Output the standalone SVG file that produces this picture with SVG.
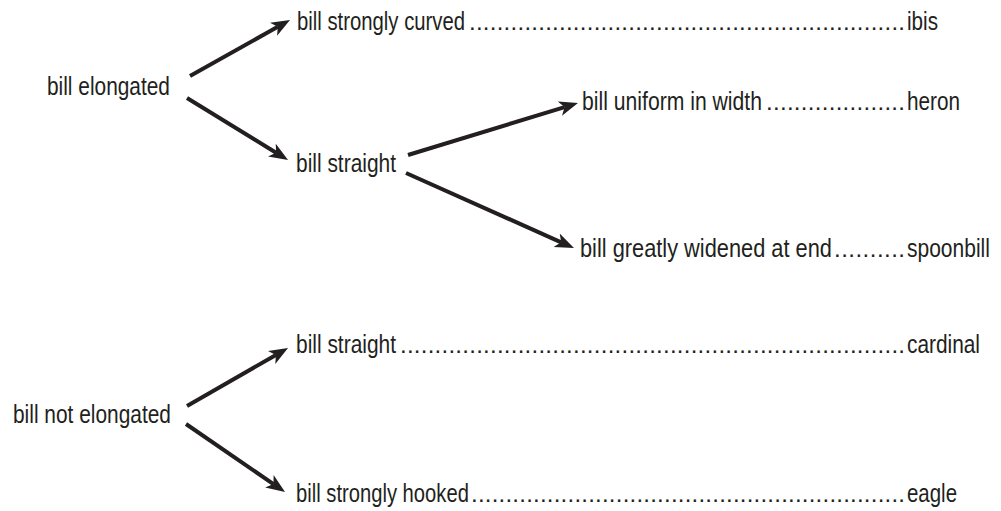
<svg xmlns="http://www.w3.org/2000/svg" width="1001" height="511" viewBox="0 0 1001 511">
<style>
text{font-family:"Liberation Sans Narrow","Liberation Sans",Arial,sans-serif;font-size:25px;fill:#231f20}
.l{font-size:24px}
.c{stroke:#231f20;stroke-width:4;fill:none;marker-end:url(#ah)}
</style>
<defs>
<marker id="ah" markerUnits="userSpaceOnUse" viewBox="0 -8 19 16" markerWidth="19" markerHeight="16" refX="5" refY="0" orient="auto">
<path d="M0,-7.5 L19,0 L0,7.5 L5,0 Z" fill="#231f20"/>
</marker>
</defs>
<rect width="1001" height="511" fill="#ffffff"/>
<g id="connectors">
<line class="c" x1="190" y1="76" x2="277.8" y2="26.8"/>
<line class="c" x1="187" y1="98" x2="276.1" y2="152.7"/>
<line class="c" x1="408" y1="155" x2="564.6" y2="107.1"/>
<line class="c" x1="406" y1="173" x2="561.2" y2="242.3"/>
<line class="c" x1="187" y1="406" x2="275.9" y2="355"/>
<line class="c" x1="186" y1="424" x2="273.5" y2="484.1"/>
</g>
<g id="n-elongated"><text transform="translate(47,95) scale(0.835,1)">bill elongated</text></g>
<g id="n-curved">
<text transform="translate(297,30) scale(0.812,1)">bill strongly curved</text>
<text class="l" x="469" y="30" textLength="436" lengthAdjust="spacing">...............................................................</text>
<text transform="translate(907,30) scale(0.827,1)">ibis</text>
</g>
<g id="n-straight1"><text transform="translate(296,172) scale(0.837,1)">bill straight</text></g>
<g id="n-uniform">
<text transform="translate(582,110) scale(0.847,1)">bill uniform in width</text>
<text class="l" x="766" y="110" textLength="139" lengthAdjust="spacing">....................</text>
<text transform="translate(907,110) scale(0.829,1)">heron</text>
</g>
<g id="n-widened">
<text transform="translate(580,257) scale(0.872,1)">bill greatly widened at end</text>
<text class="l" x="834" y="257" textLength="71" lengthAdjust="spacing">..........</text>
<text transform="translate(907,257) scale(0.841,1)">spoonbill</text>
</g>
<g id="n-notelongated"><text transform="translate(13,423) scale(0.836,1)">bill not elongated</text></g>
<g id="n-straight2">
<text transform="translate(296,353) scale(0.837,1)">bill straight</text>
<text class="l" x="400" y="353" textLength="505" lengthAdjust="spacing">.........................................................................</text>
<text transform="translate(907,353) scale(0.834,1)">cardinal</text>
</g>
<g id="n-hooked">
<text transform="translate(296,502) scale(0.808,1)">bill strongly hooked</text>
<text class="l" x="471" y="502" textLength="434" lengthAdjust="spacing">...............................................................</text>
<text transform="translate(907,502) scale(0.818,1)">eagle</text>
</g>
</svg>
